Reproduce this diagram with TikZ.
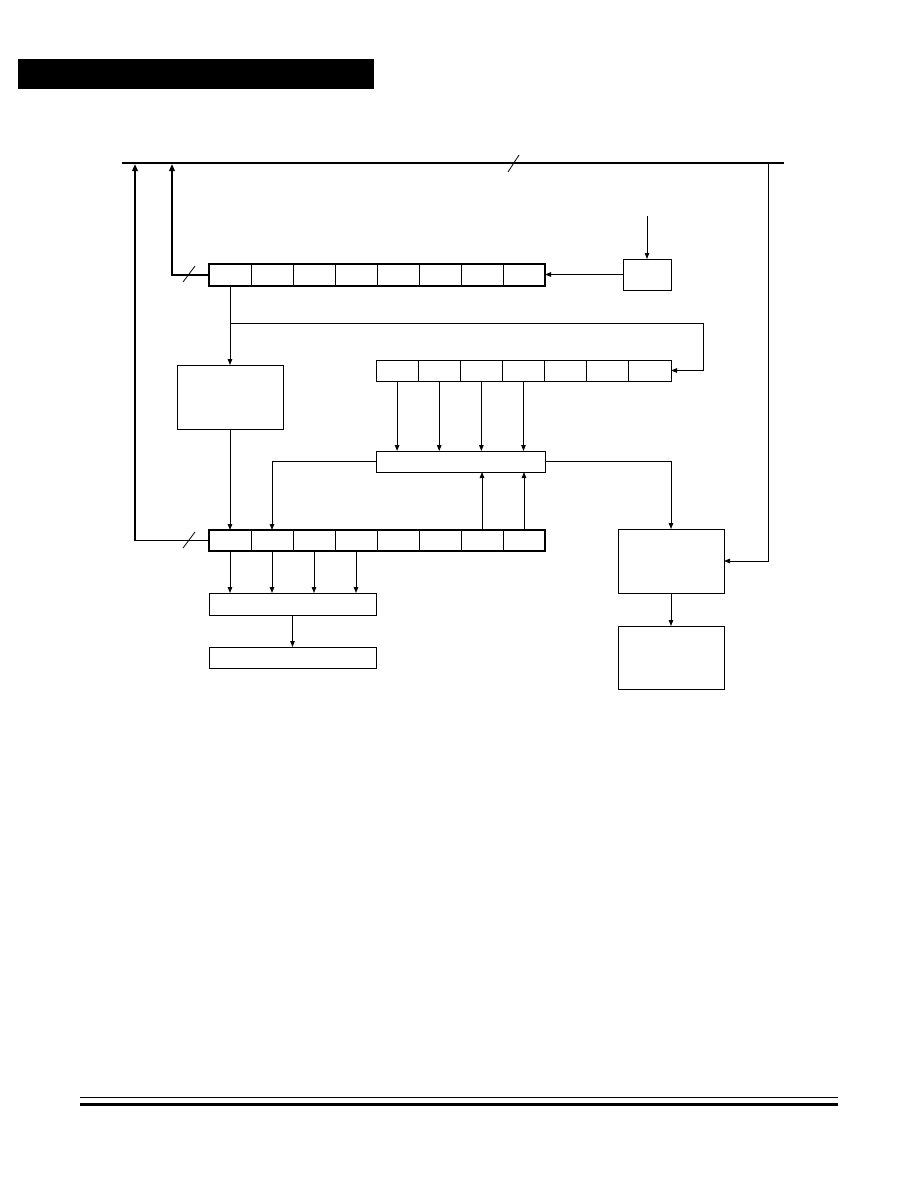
\documentclass[tikz,border=0pt]{standalone}
\usetikzlibrary{arrows.meta,calc}
\begin{document}
\begin{tikzpicture}[x=1pt,y=-1pt,
  box/.style={draw,line width=1pt,inner sep=0pt,outer sep=0pt,anchor=north west},
  reg/.style={box,line width=2pt},
  arr/.style={line width=1pt,-{Triangle[length=6pt,width=4.5pt]}},
  tarr/.style={line width=1.8pt,-{Triangle[length=7pt,width=5.5pt]}},
  cellline/.style={line width=1pt},
  slash/.style={line width=0.8pt}]
\useasboundingbox (0,0) rectangle (918,1188);
% header bar and footer rules
\fill (18,59) rectangle (374,89);
\draw[line width=1pt] (80,1097) -- (838,1097);
\fill (80,1102.5) rectangle (838,1105.5);
% bus
\coordinate (busL) at (122,163);
\coordinate (busR) at (784,163);
\draw[line width=2pt] (busL) -- (busR);
\draw[slash] (508,172) -- (519,155);
% nodes
\node[reg,minimum width=336pt,minimum height=22pt] (A) at (209,264) {};
\node[box,minimum width=48pt,minimum height=31pt] (S) at (623,259) {};
\node[box,minimum width=106pt,minimum height=64pt] (C) at (177,365) {};
\node[box,minimum width=295pt,minimum height=21pt] (B) at (376,360) {};
\node[box,minimum width=169pt,minimum height=21pt] (E) at (376,451) {};
\node[reg,minimum width=336pt,minimum height=21pt] (D) at (209,530) {};
\node[box,minimum width=167pt,minimum height=22pt] (G) at (209,593) {};
\node[box,minimum width=167pt,minimum height=21pt] (H) at (209,647) {};
\node[box,minimum width=106pt,minimum height=64pt] (F) at (618,529) {};
\node[box,minimum width=106pt,minimum height=63pt] (I) at (618,626) {};
% cell dividers
\foreach \i in {1,...,7}{
  \draw[cellline] ([xshift={\i*42pt}]A.north west) -- ([xshift={\i*42pt}]A.south west);
  \draw[cellline] ([xshift={\i*42pt}]D.north west) -- ([xshift={\i*42pt}]D.south west);
}
\foreach \i in {1,...,6}{
  \draw[cellline] ([xshift={\i*42.14pt}]B.north west) -- ([xshift={\i*42.14pt}]B.south west);
}
% connectors
\coordinate (Sin) at (647,216);
\draw[arr] (Sin) -- (S.north);
\draw[arr] (S.west) -- (S.west -| A.east);
\coordinate (bA) at (172,164);
\coordinate (bD) at (135,164);
\draw[tarr] (A.west) -| (bA);
\draw[tarr] (D.west) -| (bD);
\draw[slash] (183,282) -- (195,266);
\draw[slash] (183,548) -- (195,532);
\coordinate (a1) at ([xshift=21pt]A.south west);
\coordinate (tap) at (a1 |- 0,323);
\coordinate (tapR) at (703,323);
\draw[arr] (a1) -- (a1 |- C.north);
\draw[arr] (tap) -- (tapR) |- (B.east);
\draw[arr] (C.south) -- (C.south |- D.north);
\foreach \i in {0,...,3}{
  \coordinate (b\i) at ([xshift={21.07pt+\i*42.14pt}]B.south west);
  \draw[arr] (b\i) -- (b\i |- E.north);
  \coordinate (d\i) at ([xshift={21pt+\i*42pt}]D.south west);
  \draw[arr] (d\i) -- (d\i |- G.north);
}
\draw[arr] (E.west) -| ([xshift=63pt]D.north west);
\draw[arr] (E.east) -| (F.north);
\coordinate (d6) at ([xshift=273pt]D.north west);
\coordinate (d7) at ([xshift=315pt]D.north west);
\draw[arr] (d6) -- (d6 |- E.south);
\draw[arr] (d7) -- (d7 |- E.south);
\draw[arr] (G.south) -- (H.north);
\draw[arr] (F.south) -- (I.north);
\coordinate (bR) at (768,163);
\draw[arr] (bR) |- (F.east);
\end{tikzpicture}
\end{document}
